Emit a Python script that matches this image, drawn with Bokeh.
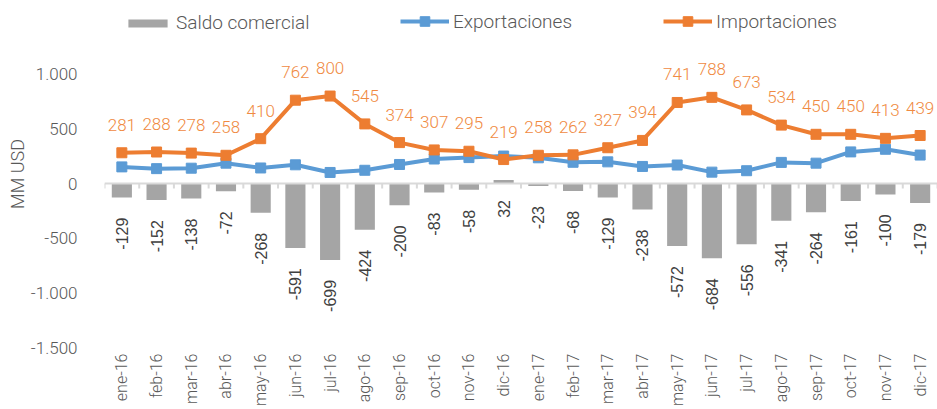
import math
from bokeh.plotting import figure
from bokeh.models import (Range1d, FixedTicker, Legend, LegendItem, ColumnDataSource, Span)
from bokeh.core.properties import value
from bokeh.embed import file_html
from bokeh.resources import INLINE

months = ["ene-16", "feb-16", "mar-16", "abr-16", "may-16", "jun-16", "jul-16", "ago-16",
          "sep-16", "oct-16", "nov-16", "dic-16", "ene-17", "feb-17", "mar-17", "abr-17",
          "may-17", "jun-17", "jul-17", "ago-17", "sep-17", "oct-17", "nov-17", "dic-17"]
importaciones = [281, 288, 278, 258, 410, 762, 800, 545, 374, 307, 295, 219,
                 258, 262, 327, 394, 741, 788, 673, 534, 450, 450, 413, 439]
saldo = [-129, -152, -138, -72, -268, -591, -699, -424, -200, -83, -58, 32,
         -23, -68, -129, -238, -572, -684, -556, -341, -264, -161, -100, -179]
exportaciones = [152, 136, 140, 186, 142, 171, 101, 121, 174, 224, 237, 251,
                 235, 194, 198, 156, 169, 104, 117, 193, 186, 289, 313, 260]
y_ticks = [-1500, -1000, -500, 0, 500, 1000]
y_tick_labels = ["-1.500", "-1.000", "-500", "0", "500", "1.000"]

n = len(months)
idx = list(range(1, n + 1))
src = ColumnDataSource(dict(x=idx, imp=importaciones, exp=exportaciones, sal=saldo,
                            imp_t=[str(v) for v in importaciones],
                            sal_t=[str(v) for v in saldo]))

FONT = "Roboto Light"
GRAY_TXT = "#595959"
W, H = 937, 409
BOTTOM, LEFT = 62, 104
FRAME_H = H - BOTTOM              # frame spans from the canvas top
UNITS_PER_PX = 3000 / 328.0       # -1500..1500 over 328 px
Y0 = -1500
Y1 = 1500 + 19 * UNITS_PER_PX     # leave room for the legend above 1500

p = figure(width=W, height=H, output_backend="svg", toolbar_location=None,
           x_range=Range1d(0.5, n + 0.5), y_range=Range1d(Y0, Y1),
           min_border_left=LEFT, min_border_right=0, min_border_top=0, min_border_bottom=BOTTOM)
p.outline_line_color = None
p.grid.visible = False
p.background_fill_color = "white"

# x axis (labels only)
p.xaxis.ticker = FixedTicker(ticks=idx)
p.xaxis.major_label_overrides = {i: m for i, m in zip(idx, months)}
p.xaxis.major_label_orientation = math.pi / 2
p.xaxis.axis_line_color = None
p.xaxis.major_tick_line_color = None
p.xaxis.minor_tick_line_color = None
p.xaxis.major_tick_out = 0
p.xaxis.major_tick_in = 0
p.xaxis.minor_tick_out = 0
p.xaxis.major_label_standoff = 6
p.xaxis.major_label_text_font = FONT
p.xaxis.major_label_text_font_size = "16px"
p.xaxis.major_label_text_color = GRAY_TXT

# y axis
p.yaxis.ticker = FixedTicker(ticks=y_ticks)
p.yaxis.major_label_overrides = {t: l for t, l in zip(y_ticks, y_tick_labels)}
p.yaxis.axis_line_color = None
p.yaxis.major_tick_line_color = None
p.yaxis.minor_tick_line_color = None
p.yaxis.major_tick_out = 0
p.yaxis.major_tick_in = 0
p.yaxis.minor_tick_out = 0
p.yaxis.major_label_standoff = 27
p.yaxis.major_label_text_font = FONT
p.yaxis.major_label_text_font_size = "17px"
p.yaxis.major_label_text_color = GRAY_TXT
p.yaxis.axis_label = "MM USD"
p.yaxis.axis_label_text_font = FONT
p.yaxis.axis_label_text_font_style = "normal"
p.yaxis.axis_label_text_font_size = "18px"
p.yaxis.axis_label_text_color = GRAY_TXT
p.yaxis.axis_label_standoff = 0

bars = p.vbar(x="x", top="sal", bottom=0, width=0.58, source=src,
              fill_color="#A5A5A5", line_color=None)

# zero category axis: line plus small ticks at category boundaries
tick_len = 5 * UNITS_PER_PX
bounds = [i - 0.5 for i in idx] + [n + 0.5]
p.segment(x0=bounds, y0=[0] * len(bounds), x1=bounds, y1=[-tick_len] * len(bounds),
          line_color="#D9D9D9", line_width=2)
p.add_layout(Span(location=0, dimension="width", line_color="#D9D9D9", line_width=2))

l_exp = p.line("x", "exp", source=src, line_color="#5B9BD5", line_width=4)
s_exp = p.scatter("x", "exp", source=src, marker="square", size=10,
                  fill_color="#5B9BD5", line_color="#5B9BD5")
l_imp = p.line("x", "imp", source=src, line_color="#ED7D31", line_width=4)
s_imp = p.scatter("x", "imp", source=src, marker="square", size=10,
                  fill_color="#ED7D31", line_color="#ED7D31")

p.text(x="x", y="imp", text="imp_t", source=src, text_align="center",
       text_baseline="middle", y_offset=-28, text_font=value(FONT),
       text_font_size="17px", text_color="#F08A42")
p.text(x="x", y="sal", text="sal_t", source=src, text_align="right",
       text_baseline="middle", angle=math.pi / 2, y_offset=20,
       text_font=value("Liberation Sans"), text_font_size="16px", text_color="#404040")

def mk_legend(label, renderers, xloc, gh, yloc):
    lg = Legend(items=[LegendItem(label=label, renderers=renderers)],
                location=(xloc, yloc), orientation="horizontal",
                glyph_width=49, glyph_height=gh, label_height=20,
                label_standoff=4, padding=0, margin=0, spacing=0,
                border_line_color=None, background_fill_alpha=0,
                label_text_font=FONT, label_text_font_size="19px",
                label_text_color=GRAY_TXT)
    p.add_layout(lg, "center")

mk_legend("Saldo comercial", [bars], 19, 10, FRAME_H - 34)
mk_legend("Exportaciones", [l_exp, s_exp], 296, 24, FRAME_H - 33)
mk_legend("Importaciones", [l_imp, s_imp], 559, 24, FRAME_H - 33)

open("out.html", "w").write(file_html(p, INLINE))
